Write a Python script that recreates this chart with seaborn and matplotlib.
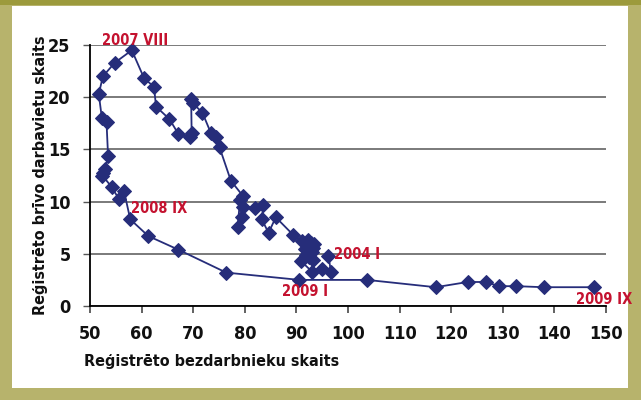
import matplotlib
matplotlib.use("Agg")
import matplotlib.pyplot as plt
import seaborn as sns
import pandas as pd
from matplotlib.patches import Rectangle

# Registered unemployed (thousands) and registered vacancies (thousands), monthly 2004 I .. 2009 IX
unemployed = [96.2, 96.7, 94.9, 93.0, 90.9, 92.0, 93.3, 92.4, 91.8, 92.6, 93.5, 93.2, 92.3,
              91.6, 93.0, 92.8, 91.0, 89.4, 86.0, 84.6, 83.3, 83.6, 82.0, 79.7, 79.4, 78.6,
              79.1, 79.7, 77.3, 75.1, 74.4, 73.4, 71.8, 70.0, 69.6, 69.7, 69.3, 67.1, 65.4,
              62.8, 62.4, 60.5, 58.1,
              54.8, 52.5, 51.7, 52.3, 53.2, 53.5, 53.0, 52.6, 52.4, 54.2, 55.6, 56.6, 57.8,
              61.3, 67.1, 76.4, 90.6, 103.7, 117.0, 123.2, 126.7, 129.3, 132.6, 137.9, 147.7]
vacancies = [4.8, 3.3, 3.5, 3.3, 4.3, 5.0, 4.4, 4.7, 4.9, 5.4, 5.9, 5.6, 6.3,
             5.5, 5.2, 6.0, 6.2, 6.8, 8.5, 7.0, 8.3, 9.7, 9.4, 9.5, 8.5, 7.6,
             10.2, 10.5, 12.0, 15.2, 16.2, 16.6, 18.5, 19.4, 19.8, 16.6, 16.2, 16.5, 17.9,
             19.1, 21.0, 21.8, 24.5,
             23.3, 22.0, 20.3, 18.0, 17.6, 14.4, 13.1, 12.7, 12.5, 11.4, 10.25, 11.0, 8.3,
             6.7, 5.4, 3.2, 2.5, 2.5, 1.8, 2.3, 2.3, 1.9, 1.9, 1.8, 1.8]

annot_text = ["2007 VIII", "2008 IX", "2004 I", "2009 I", "2009 IX"]
annot_x = [58.7, 58.0, 97.2, 87.2, 144.2]
annot_y = [25.45, 9.3, 4.9, 1.4, 0.6]
annot_ha = ["center", "left", "left", "left", "left"]

x_ticks = list(range(50, 151, 10))
y_ticks = [0, 5, 10, 15, 20, 25]

df = pd.DataFrame({"u": unemployed, "v": vacancies})

sns.set_theme(style="white")
plt.rcParams["font.family"] = ["DejaVu Sans"]
plt.rcParams["font.stretch"] = "condensed"
plt.rcParams["text.color"] = "#111111"
plt.rcParams["axes.labelcolor"] = "#111111"
plt.rcParams["xtick.labelcolor"] = "#111111"
plt.rcParams["ytick.labelcolor"] = "#111111"

navy = "#262d7a"
red = "#c4122f"

fig = plt.figure(figsize=(6.41, 4.0), dpi=100)
fig.patch.set_facecolor("#b7b36c")
fig.add_artist(Rectangle((12 / 641, 1 - 388 / 400), (628 - 12) / 641, (388 - 6) / 400,
                         transform=fig.transFigure, facecolor="white", edgecolor="none", zorder=0))
fig.add_artist(Rectangle((0, 1 - 5 / 400), 1, 5 / 400, transform=fig.transFigure,
                         facecolor="#9c9a3c", edgecolor="none", zorder=0))

ax = fig.add_axes([90 / 641, 1 - 306 / 400, (606 - 90) / 641, (306 - 45) / 400])
ax.set_facecolor("none")

sns.lineplot(data=df, x="u", y="v", sort=False, estimator=None, ax=ax, color=navy,
             linewidth=1.3, marker="D", markersize=7, markeredgecolor=navy,
             markerfacecolor=navy, zorder=3, clip_on=False)

ax.set_xlim(50, 150)
ax.set_ylim(0, 25)
ax.set_xticks(x_ticks)
ax.set_yticks(y_ticks)
ax.yaxis.grid(True, color="#7a7a7a", linewidth=1.4)
ax.xaxis.grid(False)
ax.set_axisbelow(True)
for s in ["top", "right"]:
    ax.spines[s].set_visible(False)
for s in ["left", "bottom"]:
    ax.spines[s].set_color("black")
    ax.spines[s].set_linewidth(1.3)
ax.tick_params(axis="x", direction="out", length=5, width=1.3, color="#555555",
               labelsize=13, pad=9, bottom=True)
ax.tick_params(axis="y", direction="out", length=5, width=1.0, color="#555555",
               labelsize=13, pad=9, left=True)
for lab in ax.get_xticklabels() + ax.get_yticklabels():
    lab.set_fontweight("bold")
    lab.set_fontstretch("condensed")

ax.set_xlabel("Reģistrēto bezdarbnieku skaits", fontsize=11.5, fontweight="bold",
              fontstretch="condensed")
ax.set_ylabel("Reģistrēto brīvo darbavietu skaits", fontsize=11.5, fontweight="bold",
              fontstretch="condensed")
ax.xaxis.set_label_coords(-0.012, -0.185)
ax.xaxis.label.set_horizontalalignment("left")
ax.yaxis.set_label_coords(-0.082, 0.5)

for t, x, y, ha in zip(annot_text, annot_x, annot_y, annot_ha):
    ax.text(x, y, t, color=red, fontsize=10.5, fontweight="bold", fontstretch="condensed",
            ha=ha, va="center", zorder=5, clip_on=False)

fig.savefig("out.png", dpi=100, facecolor=fig.get_facecolor())
